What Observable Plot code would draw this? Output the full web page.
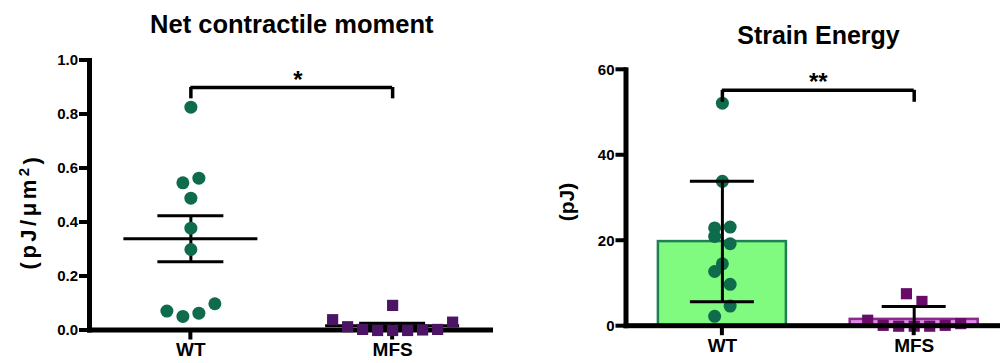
<!DOCTYPE html>
<html><head><meta charset="utf-8">
<script src="https://cdn.jsdelivr.net/npm/d3@7"></script>
<script src="https://cdn.jsdelivr.net/npm/@observablehq/plot@0.6"></script>
<style>
body{margin:0;background:#fff;}
#wrap{position:relative;width:1000px;height:363px;overflow:hidden;background:#fff;}
#left,#right{position:absolute;top:0;}
#left{left:0}
#right{left:500px}
</style></head><body>
<div id="wrap"><div id="left"></div><div id="right"></div></div>
<script>
// ---------- data ----------
const groups = ["WT", "MFS"];
// Net contractile moment (pJ/µm²)
const ncmWT  = [0.827, 0.547, 0.564, 0.49, 0.379, 0.30, 0.072, 0.052, 0.064, 0.099];
const ncmMFS = [0.04, 0.014, 0.004, 0.0, 0.0, 0.0, 0.002, 0.004, 0.031, 0.093];
const ncmMean = [0.34, 0.018];
const ncmSEM  = [0.085, 0.009];
const ncmTicks = [0, 0.2, 0.4, 0.6, 0.8, 1.0];
// Strain energy (pJ)
const seWT  = [52.2, 33.9, 23.0, 23.2, 21.0, 19.3, 14.6, 12.8, 9.8, 2.3, 4.7];
const seMFS = [1.4, 0.2, 0.0, 0.0, 0.0, 0.2, 0.6, 7.6, 5.8];
const seMean = [19.8, 1.6];
const seSD   = [14.1, 3.0];
const seTicks = [0, 20, 40, 60];

// ---------- helpers ----------
const FONT = "'Liberation Sans', Arial, Helvetica, sans-serif";
function swarm(values, gi, pxY, pxX, diam, step) {
  const idx = values.map((v, i) => i).sort((a, b) => values[a] - values[b] || a - b);
  const rows = []; let cur = null;
  for (const i of idx) {
    if (cur && (values[i] - values[cur[0]]) * pxY < diam) cur.push(i);
    else { cur = [i]; rows.push(cur); }
  }
  const out = new Array(values.length);
  for (const row of rows) {
    row.sort((a, b) => a - b);
    row.forEach((i, k) => {
      out[i] = {x: gi + (k - (row.length - 1) / 2) * step / pxX, y: values[i], g: groups[gi]};
    });
  }
  return out;
}
const LW = 5;   // axis line width (px)
const TW = 4;   // tick thickness (px)
function axisMarks(xd, yd, ticks, fmt, pxX, pxY) {
  const hx = LW / 2 / pxX, hy = LW / 2 / pxY;
  const tx = TW / 2 / pxX, ty = TW / 2 / pxY;
  return [
    Plot.axisY({ticks, tickFormat: fmt, tickSize: 0, tickPadding: 12, fontSize: 15, fontWeight: "bold", label: null}),
    Plot.rect(ticks, {x1: xd[0] - hx - 8 / pxX, x2: xd[0], y1: d => d - ty, y2: d => d + ty, fill: "#000"}),
    Plot.axisX({ticks: [0, 1], tickFormat: d => groups[d], tickSize: 0, tickPadding: 12, fontSize: 19, fontWeight: "bold", label: null}),
    Plot.rect([0, 1], {x1: d => d - tx, x2: d => d + tx, y1: yd[0], y2: yd[0] - hy - 7 / pxY, fill: "#000"}),
    Plot.rect([0], {x1: xd[0] - hx, x2: xd[0] + hx, y1: yd[0] - hy, y2: yd[1] + ty, fill: "#000"}),
    Plot.rect([0], {x1: xd[0] - hx, x2: xd[1], y1: yd[0] - hy, y2: yd[0] + hy, fill: "#000"})
  ];
}
const STYLE = {fontFamily: FONT, fontWeight: "bold", fontSize: "12px", color: "#000", background: "#fff", overflow: "visible"};

// ---------- left chart ----------
{
  const W = 500, H = 363, ml = 89.5, mr = 7, mt = 60, mb = 33;
  const xd = [-0.5, 1.5], yd = [0, 1];
  const pxX = (W - ml - mr) / (xd[1] - xd[0]);
  const pxY = (H - mt - mb) / (yd[1] - yd[0]);
  const wt = swarm(ncmWT, 0, pxY, pxX, 14, 16);
  const mfs = swarm(ncmMFS, 1, pxY, pxX, 14, 15);
  const hMean = 67 / pxX, hCap = 33 / pxX;
  const meanRows = groups.map((g, i) => ({x1: i - hMean, x2: i + hMean, y: ncmMean[i]}));
  const capRows = groups.flatMap((g, i) => [
    {x1: i - hCap, x2: i + hCap, y: ncmMean[i] + ncmSEM[i]},
    {x1: i - hCap, x2: i + hCap, y: ncmMean[i] - ncmSEM[i]}]);
  const vRows = groups.map((g, i) => ({x: i, y1: ncmMean[i] - ncmSEM[i], y2: ncmMean[i] + ncmSEM[i]}));
  const plot = Plot.plot({
    width: W, height: H, marginLeft: ml, marginRight: mr, marginTop: mt, marginBottom: mb,
    style: STYLE,
    x: {domain: xd},
    y: {domain: yd},
    marks: [
      ...axisMarks(xd, yd, ncmTicks, d3.format(".1f"), pxX, pxY),
      Plot.ruleY(meanRows, {x1: "x1", x2: "x2", y: "y", strokeWidth: 3}),
      Plot.ruleY(capRows, {x1: "x1", x2: "x2", y: "y", strokeWidth: 3}),
      Plot.ruleX(vRows, {x: "x", y1: "y1", y2: "y2", strokeWidth: 3}),
      Plot.dot(wt, {x: "x", y: "y", r: 6.5, fill: "#0e6b4c"}),
      Plot.dot(mfs, {x: "x", y: "y", r: 6.3, symbol: "square", fill: "#4b1464"}),
      // significance bracket
      Plot.ruleY([0.90], {x1: 0, x2: 1, strokeWidth: 3.5}),
      Plot.ruleX([0, 1], {y1: 0.858, y2: 0.90, strokeWidth: 3.5}),
      Plot.text(["*"], {x: 0.53, y: 0.90, dy: -7, fontSize: 24, fontWeight: "bold"}),
      // y label + title
      Plot.text(["(pJ/\u03BCm2)"], {frameAnchor: "left", rotate: -90, textAnchor: "middle", lineAnchor: "middle", dx: -61, dy: 16, fontSize: 22, fontWeight: "bold"}),
      Plot.text(["Net contractile moment"], {frameAnchor: "top", dy: -45.5, fontSize: 25.5, fontWeight: "bold"})
    ]
  });
  // superscript for the unit label
  d3.select(plot).selectAll("text").filter(function () { return this.textContent === "(pJ/\u03BCm2)"; })
    .each(function () {
      const t = d3.select(this);
      t.text(null).style("letter-spacing", "3.5px");
      t.append("tspan").text("(pJ/\u03BCm");
      t.append("tspan").attr("dy", "-0.45em").attr("font-size", "15px").text("2");
      t.append("tspan").attr("dy", "0.45em").text(")");
    });
  document.getElementById("left").append(plot);
}

// ---------- right chart ----------
{
  const W = 500, H = 363, ml = 126, mr = 0, mt = 69.3, mb = 37.3;
  const xd = [-0.5, 1.45], yd = [0, 60];
  const pxX = (W - ml - mr) / (xd[1] - xd[0]);
  const pxY = (H - mt - mb) / (yd[1] - yd[0]);
  const wt = swarm(seWT, 0, pxY, pxX, 14, 15.5);
  const mfs = swarm(seMFS, 1, pxY, pxX, 14, 15.5);
  const hBar = 64 / pxX, hCap = 32 / pxX;
  const bars = groups.map((g, i) => ({x1: i - hBar, x2: i + hBar, y: seMean[i], g}));
  const vRows = groups.map((g, i) => ({x: i, y1: Math.max(0, seMean[i] - seSD[i]), y2: seMean[i] + seSD[i]}));
  const capRows = groups.flatMap((g, i) => {
    const r = [{x1: i - hCap, x2: i + hCap, y: seMean[i] + seSD[i]}];
    if (seMean[i] - seSD[i] > 0) r.push({x1: i - hCap, x2: i + hCap, y: seMean[i] - seSD[i]});
    return r;
  });
  const plot = Plot.plot({
    width: W, height: H, marginLeft: ml, marginRight: mr, marginTop: mt, marginBottom: mb,
    style: STYLE,
    x: {domain: xd},
    y: {domain: yd},
    marks: [
      Plot.rectY(bars.filter(d => d.g === "WT"), {x1: "x1", x2: "x2", y1: 0, y2: "y", fill: "#80fb80", stroke: "#1f7f55", strokeWidth: 2.5}),
      Plot.rectY(bars.filter(d => d.g === "MFS"), {x1: "x1", x2: "x2", y1: 0, y2: "y", fill: "#df8ae6", stroke: "#8a2a8a", strokeWidth: 2.5}),
      Plot.dot(wt, {x: "x", y: "y", r: 6.5, fill: "#0e6b4c"}),
      Plot.dot(mfs, {x: "x", y: "y", r: 6.3, symbol: "square", fill: "#680c68"}),
      ...axisMarks(xd, yd, seTicks, d3.format("d"), pxX, pxY),
      Plot.ruleX(vRows, {x: "x", y1: "y1", y2: "y2", strokeWidth: 3}),
      Plot.ruleY(capRows, {x1: "x1", x2: "x2", y: "y", strokeWidth: 3}),
      // significance bracket
      Plot.ruleY([55.2], {x1: 0, x2: 1, strokeWidth: 3.5}),
      Plot.ruleX([0, 1], {y1: 52.4, y2: 55.2, strokeWidth: 3.5}),
      Plot.text(["**"], {x: 0.5, y: 55.2, dy: -8, fontSize: 24, fontWeight: "bold"}),
      Plot.text(["(pJ)"], {frameAnchor: "left", rotate: -90, textAnchor: "middle", lineAnchor: "middle", dx: -59, dy: 4, fontSize: 21, fontWeight: "bold"}),
      Plot.text(["Strain Energy"], {frameAnchor: "top", dx: 5, dy: -44, fontSize: 25, fontWeight: "bold"})
    ]
  });
  document.getElementById("right").append(plot);
}
</script>
</body></html>
